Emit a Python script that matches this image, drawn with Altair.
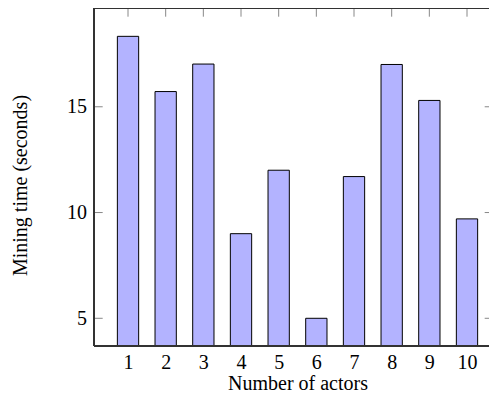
import altair as alt
import pandas as pd

actors = [1, 2, 3, 4, 5, 6, 7, 8, 9, 10]
times = [18.33, 15.72, 17.02, 9.0, 12.0, 5.0, 11.7, 17.0, 15.3, 9.7]
y_ticks = [5, 10, 15]
x_domain = [0.097, 10.584]
y_domain = [3.69, 19.67]

W, H = 395, 338
FONT = "'Liberation Serif', 'Times New Roman', serif"
TICK_LEN = 8.7
FRAME = "#333"

df = pd.DataFrame({"actors": actors, "time": times})
yt = pd.DataFrame({"v": y_ticks})

xs = alt.Scale(domain=x_domain, nice=False, zero=False, padding=0)
ys = alt.Scale(domain=y_domain, nice=False, zero=False, padding=0)

bars = alt.Chart(df).mark_bar(
    size=21.3, color="#B3B3FF", stroke="#000", strokeWidth=1
).encode(
    x=alt.X("actors:Q", scale=xs, axis=alt.Axis(
        values=actors, format="d", title="Number of actors",
        ticks=False, tickSize=0, domain=False, grid=False,
        labelPadding=6, labelFont=FONT, labelFontSize=20, labelColor="#000",
        titleFont=FONT, titleFontSize=20, titleFontWeight="normal", titleColor="#000",
        titleBaseline="alphabetic", titleY=43, titleX=203.5, titleAlign="center")),
    y=alt.Y("time:Q", scale=ys, axis=alt.Axis(
        values=y_ticks, title="Mining time (seconds)",
        ticks=False, tickSize=0, domain=False, grid=False,
        labelPadding=7.5, labelFont=FONT, labelFontSize=20, labelColor="#000",
        titleFont=FONT, titleFontSize=20, titleFontWeight="normal", titleColor="#000",
        titleAngle=270, titleBaseline="alphabetic", titleAlign="center",
        titleX=-68, titleY=177)),
    y2=alt.datum(y_domain[0]),
)

top_ticks = alt.Chart(df).mark_rule(color="#888", strokeWidth=1).encode(
    x=alt.X("actors:Q", scale=xs),
    y=alt.value(0), y2=alt.value(TICK_LEN),
)
left_ticks = alt.Chart(yt).mark_rule(color="#888", strokeWidth=1).encode(
    y=alt.Y("v:Q", scale=ys),
    x=alt.value(0), x2=alt.value(TICK_LEN),
)
# only the visible stub of the right-side ticks (the right frame lies past the edge)
right_ticks = alt.Chart(yt).mark_rule(color="#888", strokeWidth=1).encode(
    y=alt.Y("v:Q", scale=ys),
    x=alt.value(W - 4.3), x2=alt.value(W),
)

frame_top = alt.Chart(df).mark_rule(color=FRAME, strokeWidth=1).encode(
    x=alt.value(0), x2=alt.value(W), y=alt.value(0))
frame_bottom = alt.Chart(df).mark_rule(color=FRAME, strokeWidth=1).encode(
    x=alt.value(0), x2=alt.value(W), y=alt.value(H))
frame_left = alt.Chart(df).mark_rule(color=FRAME, strokeWidth=1).encode(
    x=alt.value(0), y=alt.value(0), y2=alt.value(H))

chart = alt.layer(
    top_ticks, left_ticks, right_ticks, bars, frame_top, frame_bottom, frame_left
).properties(
    width=W, height=H,
    background="white",
    autosize=alt.AutoSizeParams(type="none"),
    padding={"left": 86, "top": 0, "right": 0, "bottom": 48},
).configure_view(stroke=None)

chart.save("out.html", embed_options={"renderer": "svg", "actions": False})
